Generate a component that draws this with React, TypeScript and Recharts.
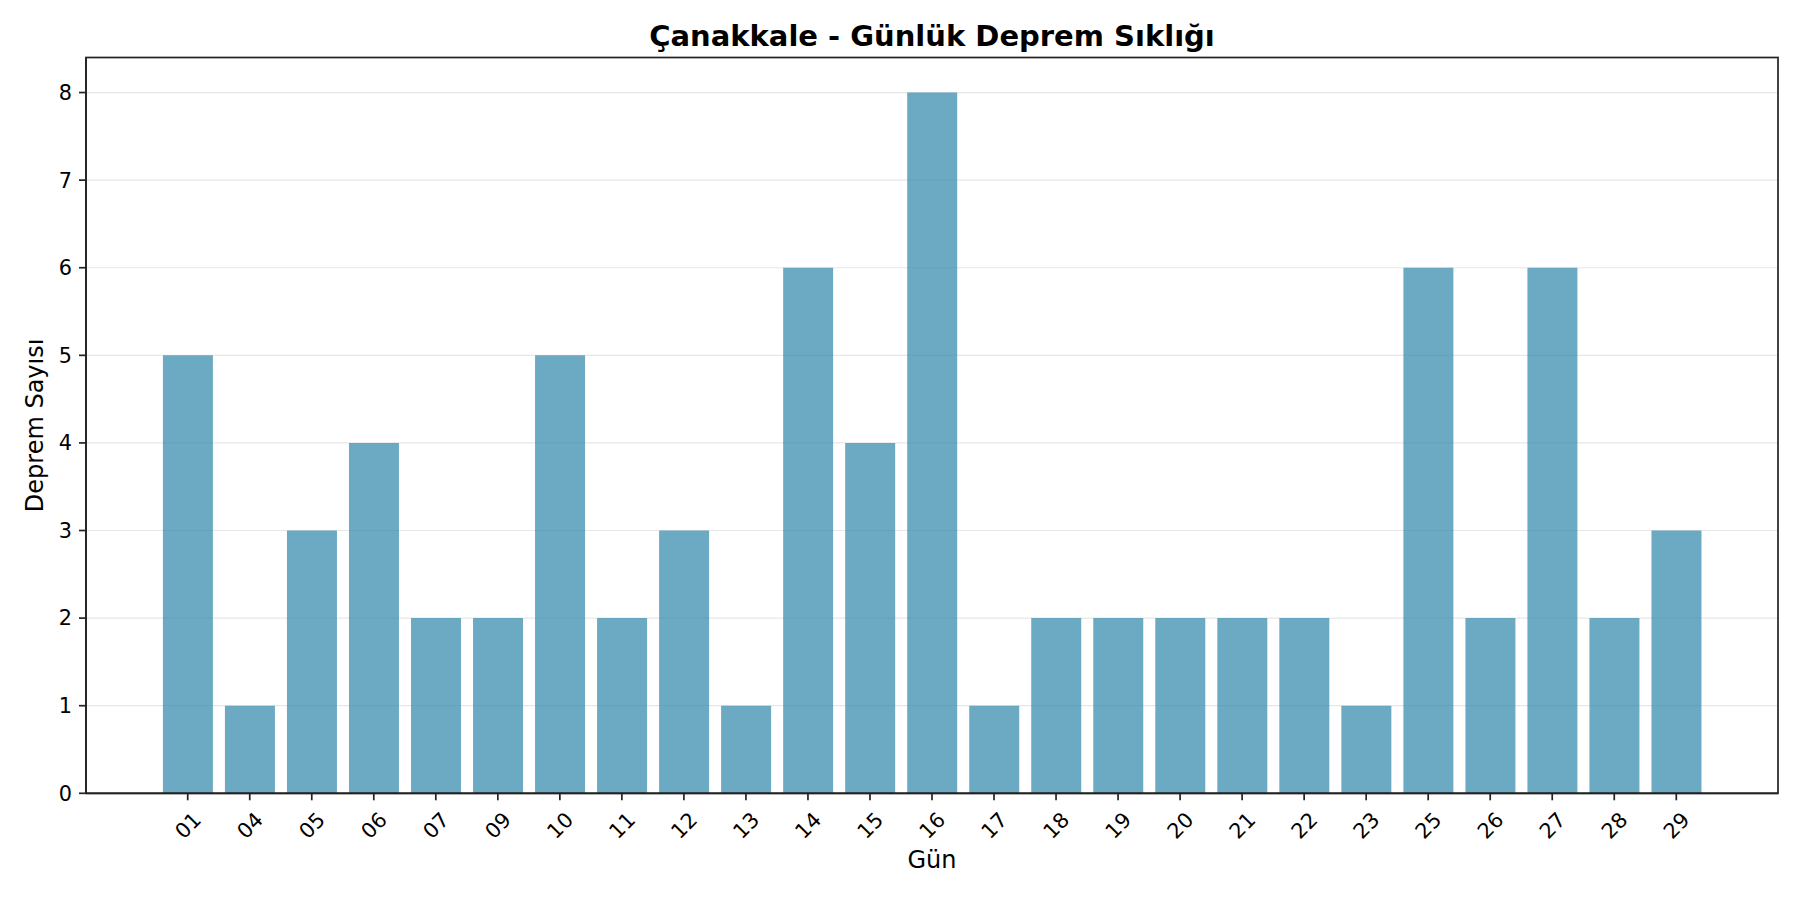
import React from "react";
import { Bar, BarChart, CartesianGrid, XAxis, YAxis } from "recharts";

const days = [
  "01", "04", "05", "06", "07", "09", "10", "11", "12", "13", "14", "15", "16",
  "17", "18", "19", "20", "21", "22", "23", "25", "26", "27", "28", "29",
];
const counts = [5, 1, 3, 4, 2, 2, 5, 2, 3, 1, 6, 4, 8, 1, 2, 2, 2, 2, 2, 1, 6, 2, 6, 2, 3];
const yTicks = [0, 1, 2, 3, 4, 5, 6, 7, 8];

const chartData = days.map((d, i) => ({ day: d, count: counts[i] }));

const W = 1800;
const H = 900;
// plot area (pixels), matplotlib-like layout
const PLOT = { left: 86, top: 57.5, right: 1778, bottom: 793.3 };
const Y_AXIS_W = 60;
const X_AXIS_H = 80;
const FONT = "'DejaVu Sans', sans-serif";
const INK = "#222";

function RotatedTick(props: any) {
  const { x, y, payload } = props;
  const cy = y + 25;
  return (
    <text
      x={x}
      y={cy}
      dy="0.36em"
      textAnchor="middle"
      fontFamily={FONT}
      fontSize={20.8}
      fill="#000"
      transform={`rotate(-45, ${x}, ${cy})`}
    >
      {payload.value}
    </text>
  );
}

export default function App() {
  const plotW = PLOT.right - PLOT.left;
  const plotH = PLOT.bottom - PLOT.top;
  const cx = (PLOT.left + PLOT.right) / 2;
  const cyMid = (PLOT.top + PLOT.bottom) / 2;
  // first bar centre sits 1.64 category units from the left spine
  const unit = plotW / 27.28;
  const pad = unit * 1.14;

  return (
    <div style={{ position: "absolute", left: 0, top: 0, width: W, height: H, background: "#fff" }}>
      <BarChart
        width={W}
        height={H}
        data={chartData}
        margin={{
          top: PLOT.top,
          right: W - PLOT.right,
          left: PLOT.left - Y_AXIS_W,
          bottom: H - PLOT.bottom - X_AXIS_H,
        }}
        barCategoryGap="10%"
      >
        <CartesianGrid vertical={false} stroke="#b0b0b0" strokeOpacity={0.3} strokeWidth={1.2} />
        <XAxis
          dataKey="day"
          type="category"
          height={X_AXIS_H}
          padding={{ left: pad, right: pad }}
          interval={0}
          axisLine={{ stroke: INK, strokeWidth: 1.7 }}
          tickLine={{ stroke: INK, strokeWidth: 1.7 }}
          tickSize={7}
          tickMargin={0}
          tick={<RotatedTick />}
        />
        <YAxis
          type="number"
          width={Y_AXIS_W}
          domain={[0, 8.4]}
          ticks={yTicks}
          allowDataOverflow
          axisLine={{ stroke: INK, strokeWidth: 1.7 }}
          tickLine={{ stroke: INK, strokeWidth: 1.7 }}
          tickSize={7}
          tickMargin={7}
          tick={{ fontFamily: FONT, fontSize: 20.8, fill: "#000" }}
        />
        <Bar dataKey="count" fill="#2E86AB" fillOpacity={0.7} isAnimationActive={false} />
      </BarChart>
      <svg
        width={W}
        height={H}
        style={{ position: "absolute", left: 0, top: 0, pointerEvents: "none" }}
      >
        <rect
          x={PLOT.left}
          y={PLOT.top}
          width={plotW}
          height={plotH}
          fill="none"
          stroke={INK}
          strokeWidth={1.7}
        />
        <text
          x={cx}
          y={45.5}
          textAnchor="middle"
          fontFamily={FONT}
          fontWeight="bold"
          fontSize={29}
          fill="#000"
        >
          Çanakkale - Günlük Deprem Sıklığı
        </text>
        <text x={cx} y={868} textAnchor="middle" fontFamily={FONT} fontSize={24} fill="#000">
          Gün
        </text>
        <text
          x={43}
          y={cyMid}
          textAnchor="middle"
          fontFamily={FONT}
          fontSize={24}
          fill="#000"
          transform={`rotate(-90, 43, ${cyMid})`}
        >
          Deprem Sayısı
        </text>
      </svg>
    </div>
  );
}
